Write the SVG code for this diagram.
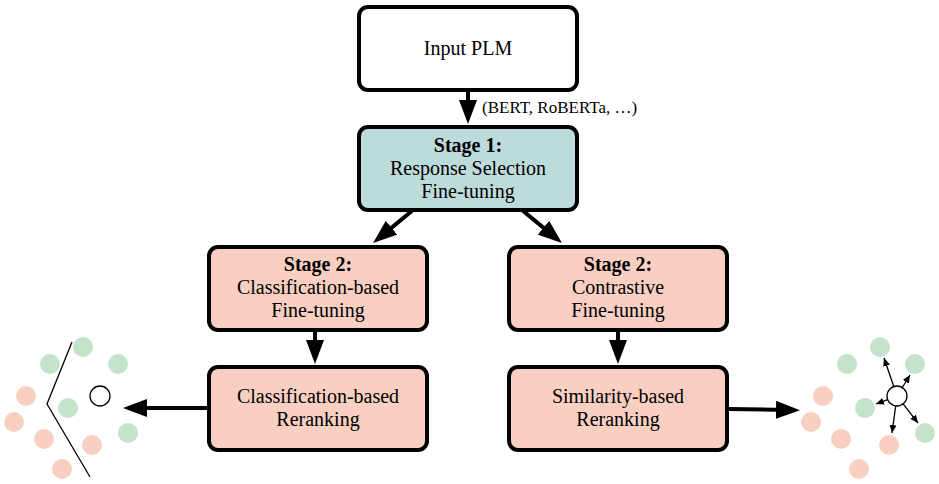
<svg xmlns="http://www.w3.org/2000/svg" width="939" height="484" viewBox="0 0 939 484">
<style>
.box{stroke:#000;stroke-width:4;}
.t{font-family:"Liberation Serif","Times New Roman",serif;font-size:20px;text-anchor:middle;fill:#000;}
.b{font-weight:bold;}
.lbl{font-family:"Liberation Serif","Times New Roman",serif;font-size:17px;fill:#000;}
.arr{stroke:#000;stroke-width:4;fill:none;marker-end:url(#ah);}
.sa{stroke:#000;stroke-width:1.3;fill:none;marker-end:url(#sh);}
.g{fill:#c4e3cb;}
.p{fill:#f9cfc2;}
.e{fill:#fff;stroke:#000;stroke-width:1.3;}
</style>
<defs>
<marker id="ah" markerUnits="userSpaceOnUse" viewBox="0 0 24 18" refX="12" refY="9" markerWidth="24" markerHeight="18" orient="auto"><path d="M0,0 L24,9 L0,18 z" fill="#000"/></marker>
<marker id="sh" markerUnits="userSpaceOnUse" viewBox="0 0 8 7" refX="8" refY="3.5" markerWidth="8" markerHeight="7" orient="auto"><path d="M0,0 L8,3.5 L0,7 z" fill="#000"/></marker>
<g id="dots">
<circle class="g" cx="83" cy="347" r="10"/>
<circle class="g" cx="50" cy="364" r="10"/>
<circle class="g" cx="118" cy="364" r="10"/>
<circle class="g" cx="68" cy="408" r="10"/>
<circle class="g" cx="128" cy="433" r="10"/>
<circle class="p" cx="26" cy="396" r="10"/>
<circle class="p" cx="14" cy="422" r="10"/>
<circle class="p" cx="44" cy="439" r="10"/>
<circle class="p" cx="92" cy="445" r="10"/>
<circle class="p" cx="62" cy="469" r="10"/>
<circle class="e" cx="100" cy="396" r="10"/>
</g>
</defs>
<g id="connectors">
<line class="arr" x1="468" y1="92" x2="468" y2="112"/>
<line class="arr" x1="413" y1="210" x2="382.3" y2="235.4"/>
<line class="arr" x1="522" y1="210" x2="552.7" y2="235.4"/>
<line class="arr" x1="315" y1="332" x2="315" y2="352"/>
<line class="arr" x1="618" y1="332" x2="618" y2="352"/>
<line class="arr" x1="207" y1="408" x2="135" y2="408"/>
<line class="arr" x1="729" y1="409" x2="788" y2="410"/>
</g>
<text class="lbl" x="482" y="113">(BERT, RoBERTa, …)</text>
<g id="input">
<rect class="box" x="359" y="7" width="218" height="83" rx="9" fill="#fff"/>
<text class="t" x="468" y="55">Input PLM</text>
</g>
<g id="stage1">
<rect class="box" x="359" y="127" width="218" height="83" rx="9" fill="#bedbdc"/>
<text class="t b" x="468" y="152">Stage 1:</text>
<text class="t" x="468" y="175">Response Selection</text>
<text class="t" x="468" y="198">Fine-tuning</text>
</g>
<g id="stage2a">
<rect class="box" x="209" y="247" width="218" height="83" rx="9" fill="#f9cfc2"/>
<text class="t b" x="318" y="271">Stage 2:</text>
<text class="t" x="318" y="294">Classification-based</text>
<text class="t" x="318" y="317">Fine-tuning</text>
</g>
<g id="stage2b">
<rect class="box" x="509" y="247" width="218" height="83" rx="9" fill="#f9cfc2"/>
<text class="t b" x="618" y="271">Stage 2:</text>
<text class="t" x="618" y="294">Contrastive</text>
<text class="t" x="618" y="317">Fine-tuning</text>
</g>
<g id="rerankA">
<rect class="box" x="209" y="367" width="218" height="83" rx="9" fill="#f9cfc2"/>
<text class="t" x="318" y="403">Classification-based</text>
<text class="t" x="318" y="426">Reranking</text>
</g>
<g id="rerankB">
<rect class="box" x="509" y="367" width="218" height="83" rx="9" fill="#f9cfc2"/>
<text class="t" x="618" y="403">Similarity-based</text>
<text class="t" x="618" y="426">Reranking</text>
</g>
<g id="scatterLeft">
<use href="#dots"/>
<polyline points="72,342 47,404 90,477" fill="none" stroke="#000" stroke-width="1.3"/>
</g>
<g id="scatterRight">
<use href="#dots" transform="translate(797,0)"/>
<line class="sa" x1="893.8" y1="386.5" x2="884" y2="358"/>
<line class="sa" x1="902.3" y1="387.5" x2="910" y2="375"/>
<line class="sa" x1="887.7" y1="399.6" x2="876" y2="404"/>
<line class="sa" x1="895.7" y1="405.9" x2="892" y2="433"/>
<line class="sa" x1="903.1" y1="403.9" x2="918" y2="423"/>
</g>
</svg>
